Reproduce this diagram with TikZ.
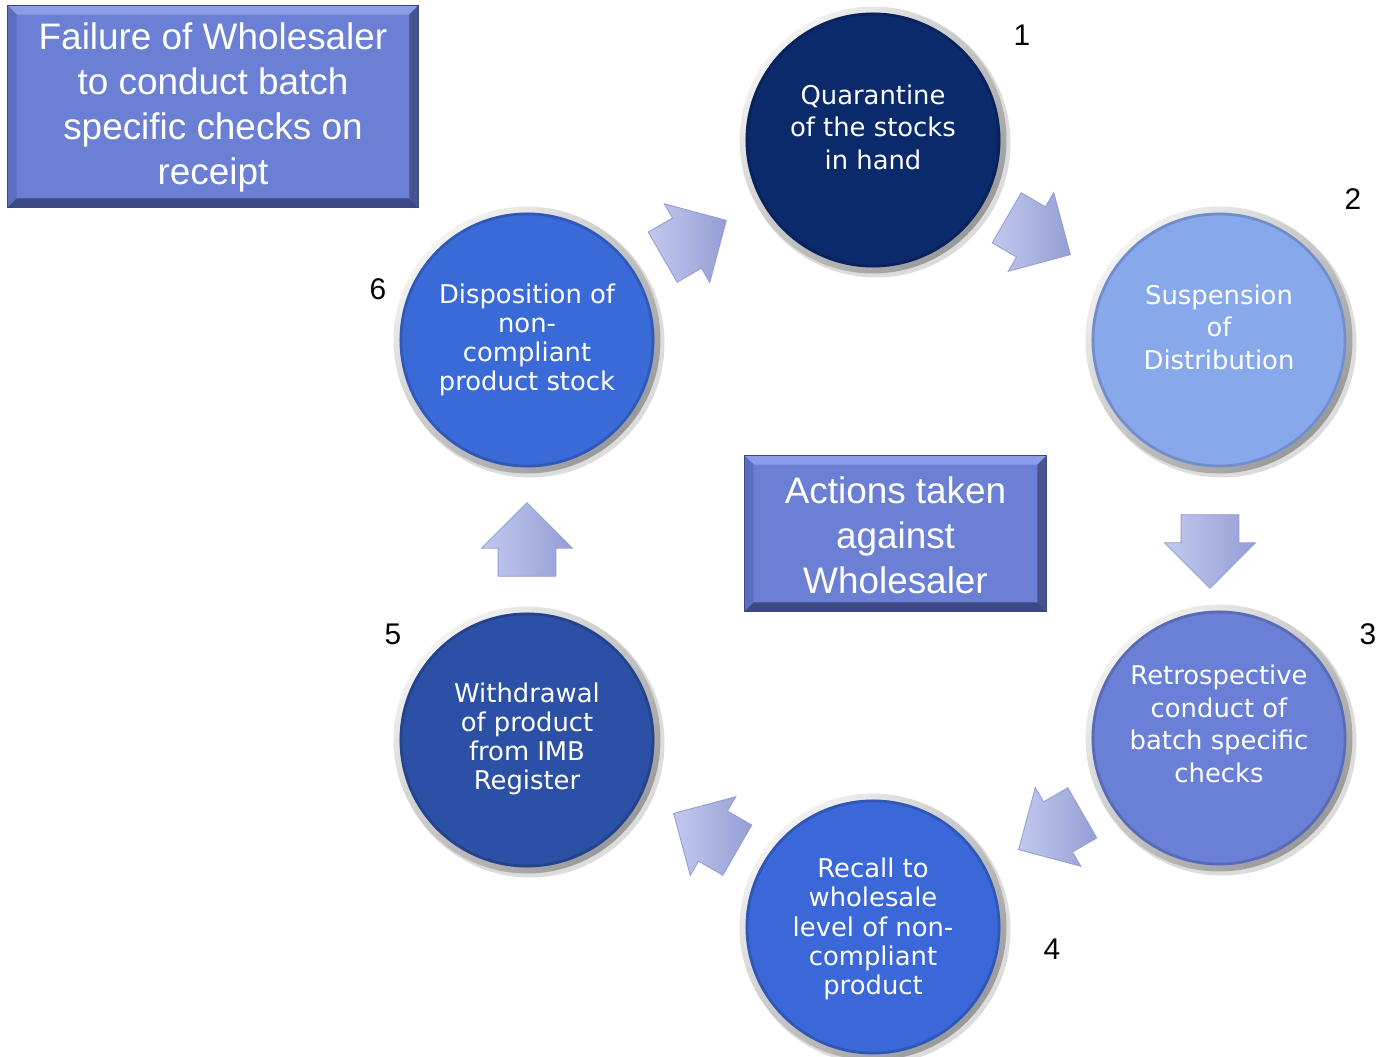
\documentclass[tikz,border=0pt]{standalone}
\usepackage{fontspec}
\setmainfont{DejaVu Sans}
\newfontfamily\arialf{Liberation Sans}
\usetikzlibrary{shapes.arrows,calc,backgrounds}
\definecolor{cA}{HTML}{0B2A6C}
\definecolor{cB}{HTML}{88A8EC}
\definecolor{cC}{HTML}{6A80D6}
\definecolor{cD}{HTML}{3A68D8}
\definecolor{cE}{HTML}{2B50A5}
\definecolor{cF}{HTML}{3A6AD8}
\definecolor{boxcol}{HTML}{6B80D4}
\definecolor{bevtop}{HTML}{8C9CE6}
\definecolor{bevleft}{HTML}{5C6EC0}
\definecolor{bevbot}{HTML}{3C4884}
\definecolor{bevright}{HTML}{46538F}
\definecolor{arrlight}{HTML}{EEF0FC}
\definecolor{arrmid}{HTML}{C2C9EE}
\definecolor{arrdark}{HTML}{959ED4}
\tikzset{
  circ/.style={circle, minimum size=5.1cm, inner sep=0pt},
  ctext/.style={text=white, align=center, font=\fontsize{14.7}{18.5}\selectfont},
  ctextb/.style={text=white, align=center, font=\fontsize{14.7}{16.6}\selectfont},
  numlab/.style={font=\arialf\fontsize{17}{20}\selectfont, text=black},
  bbox/.style={fill=boxcol, inner sep=0pt},
  btext/.style={text=white, align=center, font=\arialf\fontsize{21}{25.6}\selectfont},
  barrow/.style={single arrow, minimum height=1.47cm,
    single arrow head extend=0.33cm, inner sep=0pt, draw=arrdark,
    line width=0.5pt, left color=arrmid, middle color=arrlight, right color=arrdark}
}
\newcommand{\shaftw}{\rule{0pt}{1.14cm}}
\newcommand{\rimring}[1]{%
  \fill[black!30, opacity=0.45] ($(#1)+(3,3)$) circle[radius=2.69cm];
  \shade[top color=white!90!gray, bottom color=gray!80, shading angle=45]
    (#1) circle[radius=2.67cm];
}
\newcommand{\bevel}[1]{%
  \fill[bevtop] (#1.north west) -- (#1.north east) -- ($(#1.north east)+(-9,9)$) -- ($(#1.north west)+(9,9)$) -- cycle;
  \fill[bevleft] (#1.north west) -- (#1.south west) -- ($(#1.south west)+(9,-9)$) -- ($(#1.north west)+(9,9)$) -- cycle;
  \fill[bevbot] (#1.south west) -- (#1.south east) -- ($(#1.south east)+(-9,-9)$) -- ($(#1.south west)+(9,-9)$) -- cycle;
  \fill[bevright] (#1.north east) -- (#1.south east) -- ($(#1.south east)+(-9,-9)$) -- ($(#1.north east)+(-9,9)$) -- cycle;
  \draw[bevbot, line width=0.6pt] (#1.north west) rectangle (#1.south east);
}
\begin{document}
\begin{tikzpicture}[x=0.02cm, y=-0.02cm]
\useasboundingbox (0,0) rectangle (1379,1057);
\fill[white] (0,0) rectangle (1379,1057);

% circle positions and rims
\coordinate (p1) at (873,140);
\coordinate (p2) at (1219,340);
\coordinate (p3) at (1219,738);
\coordinate (p4) at (873,927);
\coordinate (p5) at (527,740);
\coordinate (p6) at (527,340);
\rimring{p1}\rimring{p2}\rimring{p3}\rimring{p4}\rimring{p5}\rimring{p6}

% circles
\node[circ, fill=cA] (c1) at (p1) {};
\node[circ, fill=cB] (c2) at (p2) {};
\node[circ, fill=cC] (c3) at (p3) {};
\node[circ, fill=cD] (c4) at (p4) {};
\node[circ, fill=cE] (c5) at (p5) {};
\node[circ, fill=cF] (c6) at (p6) {};
\foreach \c/\col in {c1/cA,c2/cB,c3/cC,c4/cD,c5/cE,c6/cF}{
  \draw[\col!65!black, opacity=0.45, line width=1.5pt] (\c.center) circle[radius=2.52cm];
}

% circle texts
\node[ctext] (t1) at (873,127) {Quarantine\\of the stocks\\in hand};
\node[ctext] (t2) at (1219,327) {Suspension\\of\\Distribution};
\node[ctext] (t3) at (1219,724) {Retrospective\\conduct of\\batch specific\\checks};
\node[ctextb] (t4) at (873,929) {Recall to\\wholesale\\level of non-\\compliant\\product};
\node[ctextb] (t5) at (527,739) {Withdrawal\\of product\\from IMB\\Register};
\node[ctextb] (t6) at (527,340) {Disposition of\\non-\\compliant\\product stock};

% numbers
\node[numlab] (n1) at (1022,35) {1};
\node[numlab] (n2) at (1353,199) {2};
\node[numlab] (n3) at (1368,634) {3};
\node[numlab] (n4) at (1052,949) {4};
\node[numlab] (n5) at (393,634) {5};
\node[numlab] (n6) at (378,289) {6};

% block arrows
\node[barrow, rotate=30] (a61) at (682,246) {\shaftw};
\node[barrow, rotate=-30] (a12) at (1026,229) {\shaftw};
\node[barrow, rotate=-90] (a23) at (1210,537) {\shaftw};
\node[barrow, rotate=210] (a34) at (1063,824) {\shaftw};
\node[barrow, rotate=150] (a45) at (718,839) {\shaftw};
\node[barrow, rotate=90] (a56) at (527,554) {\shaftw};

% boxes
\node[bbox, minimum width=8.2cm, minimum height=4.02cm] (b1) at (213,106.5) {};
\bevel{b1}
\node[btext] (bt1) at (213,107) {Failure of Wholesaler\\to conduct batch\\specific checks on\\receipt};
\node[bbox, minimum width=6.02cm, minimum height=3.1cm] (b2) at (895.5,533.5) {};
\bevel{b2}
\node[btext] (bt2) at (895.5,535) {Actions taken\\against\\Wholesaler};
\end{tikzpicture}
\end{document}
